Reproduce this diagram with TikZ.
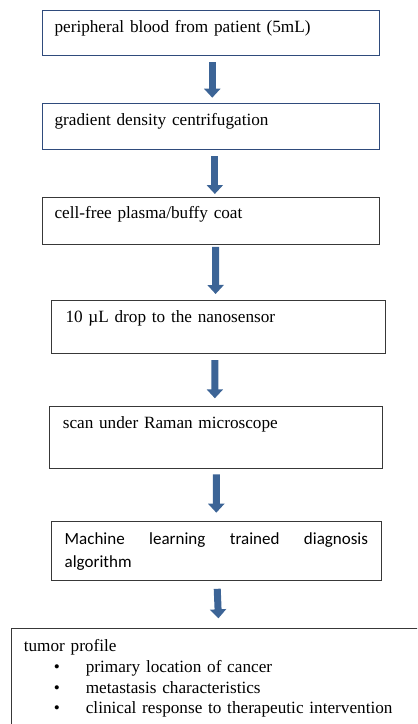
\documentclass[tikz,border=0pt]{standalone}
\usepackage{fontspec}
\setmainfont{Liberation Serif}
\newfontfamily\calibri{Carlito}
\usepackage{tikz}
\usetikzlibrary{arrows.meta}
\definecolor{arrowblue}{HTML}{3C6496}
\definecolor{boxblue}{HTML}{2F4B7C}
\definecolor{boxgray}{HTML}{383838}

\begin{document}
\begin{tikzpicture}[x=1bp,y=-1bp,
  stepbox/.style={draw=boxgray,line width=1.1bp,rectangle,anchor=north west,
    inner ysep=0pt,inner xsep=12.3bp,align=left,
    font=\fontsize{17.2bp}{20.8bp}\selectfont},
  bluebox/.style={stepbox,draw=boxblue},
  flow/.style={draw=arrowblue,line width=7bp,-{Triangle[width=16bp,length=9bp]}}]
  \useasboundingbox (0,0) rectangle (417,724);
  \clip (0,0) rectangle (417,724);

   \draw (41.7,10) node[bluebox,text width=313bp,text height=21.7bp,text depth=23.3bp] (blood) {peripheral blood from patient (5mL)};
   \draw (41.7,103.3) node[bluebox,text width=313bp,text height=21.7bp,text depth=24.3bp] (gradient) {gradient density centrifugation};
  \draw (41.7,197.3) node[stepbox,text width=313bp,text height=21bp,text depth=25.7bp] (plasma) {cell-free plasma/buffy coat};
  \draw (50.7,300) node[stepbox,inner xsep=14.3bp,text width=305.7bp,text height=21.7bp,text depth=31.3bp] (drop) {10 µL drop to the nanosensor};
  \draw (49.3,405.7) node[stepbox,inner xsep=13bp,text width=307bp,text height=22.6bp,text depth=39.4bp] (scan) {scan under Raman microscope};
  \draw (50.7,521) node[stepbox,inner xsep=12.6bp,minimum width=330.3bp,text width=303.4bp,align=justify,
     text height=23.3bp,text depth=35.7bp,font=\calibri\fontsize{17bp}{22.4bp}\selectfont] (learning) {Machine learning trained diagnosis\linebreak algorithm};
  \draw (11,628.3) node[stepbox,text width=400bp,text height=22.7bp,text depth=120bp] (profile)
     {tumor profile\\
      \hspace*{30bp}\makebox[32bp][l]{\textbullet}primary location of cancer\\
      \hspace*{30bp}\makebox[32bp][l]{\textbullet}metastasis characteristics\\
      \hspace*{30bp}\makebox[32bp][l]{\textbullet}clinical response to therapeutic intervention};

    \draw[flow,shorten <=6bp,shorten >=5.6bp] ([xshift=1.2bp]blood.south) -- ([xshift=1.2bp]gradient.north);
    \draw[flow,shorten <=5.7bp,shorten >=3.3bp] ([xshift=3.8bp]gradient.south) -- ([xshift=3.8bp]plasma.north);
    \draw[flow,shorten <=1.7bp,shorten >=6bp] ([xshift=4.5bp]plasma.south) -- ([xshift=-2.8bp]drop.north);
     \draw[flow,shorten <=6bp,shorten >=7.4bp] ([xshift=-3.5bp]drop.south) -- ([xshift=-1.5bp]scan.north);
     \draw[flow,shorten <=5.6bp,shorten >=8.3bp] ([xshift=-0.1bp]scan.south) -- ([xshift=-0.1bp]learning.north);
      \draw[flow,shorten <=7.7bp,shorten >=10bp] ([xshift=0.5bp]learning.south) -- ([xshift=-5bp]profile.north);

\end{tikzpicture}
\end{document}
